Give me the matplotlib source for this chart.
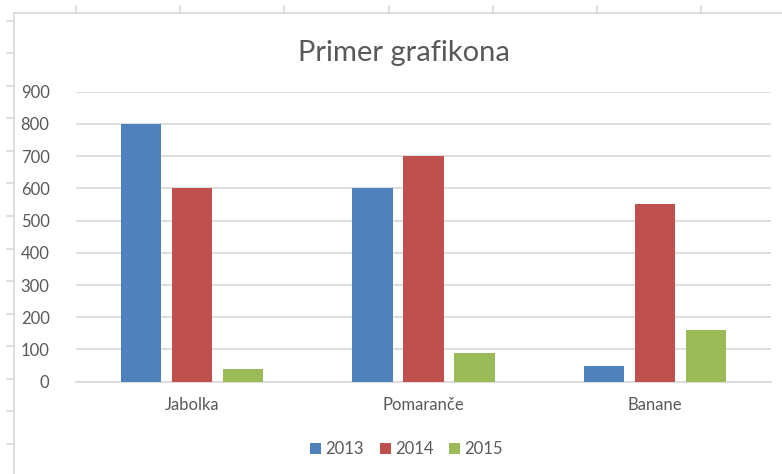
import numpy as np
import matplotlib
matplotlib.use("Agg")
import matplotlib.pyplot as plt
from matplotlib.lines import Line2D

categories = ["Jabolka", "Pomaranče", "Banane"]
years = ["2013", "2014", "2015"]
values_2013 = [800, 600, 50]
values_2014 = [600, 700, 550]
values_2015 = [40, 90, 160]
y_ticks = [0, 100, 200, 300, 400, 500, 600, 700, 800, 900]

colors = ["#4f81bd", "#c0504d", "#9bbb59"]
text_col = "#595959"
grid_col = "#d9d9d9"

plt.rcParams["font.family"] = ["Lato", "DejaVu Sans"]

W, H = 782, 474
fig = plt.figure(figsize=(W / 100, H / 100), dpi=100)
fig.patch.set_facecolor("white")

# spreadsheet grid behind the chart (screenshot look)
def fx(px):
    return px / W

def fy(py):
    return 1 - py / H

top, left = 12.7, 14
fig.add_artist(Line2D([fx(left), fx(left)], [fy(top), fy(H)], color=grid_col, lw=1.2))
fig.add_artist(Line2D([fx(left), 1], [fy(top), fy(top)], color=grid_col, lw=1.2))
for k in range(14):
    yy = 20.7 + 32.55 * k
    fig.add_artist(Line2D([fx(7), fx(left)], [fy(yy), fy(yy)], color=grid_col, lw=1.2))
for k in range(7):
    xx = 76 + 104.2 * k
    fig.add_artist(Line2D([fx(xx), fx(xx)], [fy(6), fy(top)], color=grid_col, lw=1.2))

ax = fig.add_axes([76 / W, (H - 381.7) / H, 695 / W, 290 / H])
x = np.arange(len(categories))
width = 0.173
step = 0.22
series = [values_2013, values_2014, values_2015]
for i, vals in enumerate(series):
    ax.bar(x + (i - 1) * step, vals, width, color=colors[i], label=years[i], zorder=3)

ax.set_xlim(-0.5, len(categories) - 0.5)
ax.set_ylim(0, 900)
ax.set_yticks(y_ticks)
ax.set_xticks(x)
ax.set_xticklabels(categories)
ax.yaxis.grid(True, color=grid_col, lw=1.2, zorder=0)
for s in ["top", "right", "left"]:
    ax.spines[s].set_visible(False)
ax.spines["bottom"].set_color(grid_col)
ax.spines["bottom"].set_linewidth(1.2)
ax.tick_params(axis="both", length=0, labelsize=12, colors=text_col)
ax.tick_params(axis="y", pad=19)
ax.tick_params(axis="x", pad=11)

fig.text(0.516, fy(60.7), "Primer grafikona", ha="center", va="baseline",
         fontsize=21, color=text_col)

fig.legend(loc="center", bbox_to_anchor=(0.5197, fy(449.5)), ncol=3, frameon=False,
           fontsize=12, handlelength=0.66, handleheight=0.66, handletextpad=0.25,
           columnspacing=0.95, borderpad=0, labelcolor=text_col)

fig.savefig("out.png", dpi=100)
